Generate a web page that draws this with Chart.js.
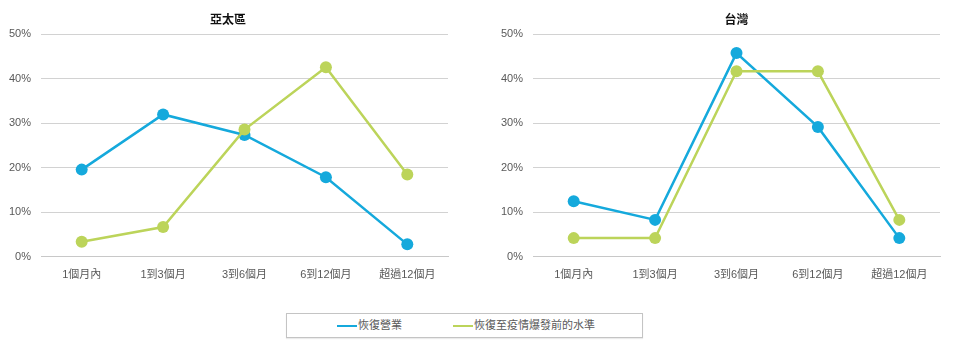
<!DOCTYPE html>
<html>
<head>
<meta charset="utf-8">
<script src="https://cdn.jsdelivr.net/npm/chart.js@4/dist/chart.umd.min.js"></script>
<style>
  body { margin: 0; background: #fff; width: 954px; height: 342px; position: relative; overflow: hidden;
         font-family: "Liberation Sans", "Noto Sans CJK TC", sans-serif; }
  .chart-box { position: absolute; top: 0; width: 458px; height: 290px; }
  #leftBox { left: 0; }
  #rightBox { left: 492px; }
  .legend { position: absolute; left: 286px; top: 313px; width: 355px; height: 23px;
            border: 1px solid #c4c4c4; box-shadow: 0 1px 1px rgba(0,0,0,0.08); }
  .legend-item { position: absolute; top: 4px; font-size: 11px; color: #595959; line-height: 15px; }
  .legend-item span { display: inline-block; width: 20px; height: 2px; vertical-align: middle; margin-right: 1px; }
</style>
</head>
<body>
<div class="chart-box" id="leftBox"><canvas id="chartAsia"></canvas></div>
<div class="chart-box" id="rightBox"><canvas id="chartTaiwan"></canvas></div>
<div class="legend">
  <div class="legend-item" style="left:50px"><span style="background:#15a9dc"></span>恢復營業</div>
  <div class="legend-item" style="left:166px"><span style="background:#bcd45a"></span>恢復至疫情爆發前的水準</div>
</div>
<script>
const categories = ['1個月內', '1到3個月', '3到6個月', '6到12個月', '超過12個月'];
const yTicks = [0, 10, 20, 30, 40, 50];

// 亞太區
const asiaReopen = [19.6, 32.0, 27.4, 17.9, 2.8];
const asiaPreCovid = [3.4, 6.7, 28.6, 42.6, 18.5];

// 台灣
const taiwanReopen = [12.5, 8.3, 45.8, 29.2, 4.2];
const taiwanPreCovid = [4.2, 4.2, 41.7, 41.7, 8.3];

const seriesNames = ['恢復營業', '恢復至疫情爆發前的水準'];
const blue = '#15a9dc';
const green = '#bcd45a';
const fontFamily = '"Liberation Sans", "Noto Sans CJK TC", sans-serif';

function makeChart(id, title, reopen, preCovid, titleFull) {
    const ds = (label, data, color) => ({
        label: label,
        data: data,
        borderColor: color,
        backgroundColor: color,
        borderWidth: 2.5,
        pointRadius: 6,
        pointBorderWidth: 0,
        pointBackgroundColor: color,
        fill: false,
        tension: 0,
    });
    return new Chart(document.getElementById(id), {
        type: 'line',
        data: {
            labels: categories,
            datasets: [
                ds(seriesNames[1], preCovid, green),
                ds(seriesNames[0], reopen, blue),
            ],
        },
        options: {
            responsive: true,
            maintainAspectRatio: false,
            animation: false,
            layout: { padding: { left: 8, right: 10, top: 13, bottom: 4 } },
            plugins: {
                legend: { display: false },
                tooltip: { enabled: false },
                title: {
                    display: true,
                    text: title,
                    fullSize: titleFull,
                    color: '#111',
                    font: { family: fontFamily, size: 12, weight: 'bold' },
                    padding: { top: 0, bottom: 7 },
                },
            },
            scales: {
                x: {
                    offset: true,
                    grid: { display: false },
                    border: { display: true, color: '#c8c8c8', width: 1 },
                    ticks: { color: '#595959', padding: 4, maxRotation: 0, font: { family: fontFamily, size: 11 } },
                },
                y: {
                    min: 0,
                    max: 50,
                    afterBuildTicks: (axis) => { axis.ticks = yTicks.map((v) => ({ value: v })); },
                    afterFit: (axis) => { axis.width = 33; },
                    grid: { color: '#d2d2d2', drawTicks: false, lineWidth: 1 },
                    border: { display: false },
                    ticks: {
                        color: '#595959',
                        padding: 10,
                        font: { family: fontFamily, size: 11 },
                        callback: (v) => v + '%',
                    },
                },
            },
        },
    });
}

makeChart('chartAsia', '亞太區', asiaReopen, asiaPreCovid, true);
makeChart('chartTaiwan', '台灣', taiwanReopen, taiwanPreCovid, false);
</script>
</body>
</html>
